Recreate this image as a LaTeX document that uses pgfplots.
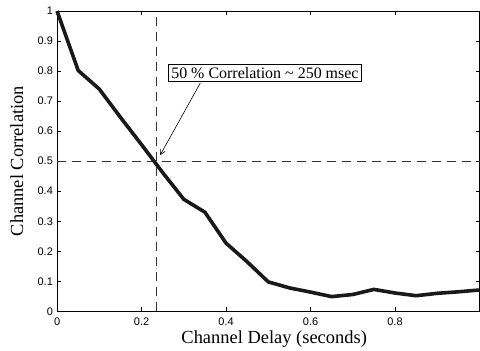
\documentclass[border=0pt]{standalone}
\usepackage{pgfplots}
\pgfplotsset{compat=1.18}
\usepackage{fontspec}
\setmainfont{Liberation Serif}
\setsansfont{Liberation Sans}
\usetikzlibrary{arrows.meta}
\pgfplotstableread{
x y
0.00 1.000
0.05 0.802
0.10 0.740
0.15 0.646
0.20 0.555
0.25 0.462
0.30 0.373
0.35 0.330
0.40 0.227
0.45 0.165
0.50 0.098
0.55 0.078
0.60 0.064
0.65 0.049
0.70 0.056
0.75 0.073
0.80 0.061
0.85 0.052
0.90 0.060
0.95 0.065
1.00 0.071
}\corr
\begin{document}
\begin{tikzpicture}
\begin{axis}[
  name=ax,
  scale only axis,
  width=422bp, height=300bp,
  xmin=0, xmax=1, ymin=0, ymax=1,
  xtick={0,0.2,0.4,0.6,0.8},
  ytick={0,0.1,...,1},
  axis line style={line width=0.8bp},
  tick style={black, line width=0.6bp},
  major tick length=4bp,
  tick align=inside,
  /pgf/number format/assume math mode=true,
  /pgf/number format/fixed,
  /pgf/number format/precision=1,
  tick label style={font=\sffamily\fontsize{11}{11}\selectfont},
  yticklabel style={anchor=east, inner sep=0pt, xshift=-4bp},
  xticklabel style={anchor=north, inner sep=0pt, yshift=-6bp},
  xlabel={Channel Delay (seconds)},
  ylabel={Channel Correlation},
  label style={font=\fontsize{18.5}{20}\selectfont},
  xlabel style={at={(axis description cs:0.514,-0.1067)}, anchor=base},
  ylabel style={at={(axis description cs:-0.0806,0.5)}, anchor=base},
  clip=false,
]
\addplot[black!80, line width=0.9bp, dash pattern=on 9bp off 6bp] coordinates {(0.235,0) (0.235,1)};
\addplot[black!80, line width=0.9bp, dash pattern=on 9bp off 6bp] coordinates {(0,0.5) (1,0.5)};
\addplot[black!90, line width=3.6bp, line join=round] table[x=x,y=y] {\corr};
\draw[line width=0.6bp, -{Straight Barb[length=5bp,width=5bp]}] (axis cs:0.339,0.76) -- (axis cs:0.244,0.52);
\node[draw, line width=0.7bp, fill=white, inner sep=3bp, font=\fontsize{16}{17}\selectfont] at (axis cs:0.492,0.794) {50 \% Correlation \textasciitilde{} 250 msec};
\end{axis}
\pgfresetboundingbox
\path[use as bounding box] ([shift={(-57bp,-39bp)}]ax.south west) rectangle ([shift={(0.5bp,11bp)}]ax.north east);
\end{tikzpicture}
\end{document}
